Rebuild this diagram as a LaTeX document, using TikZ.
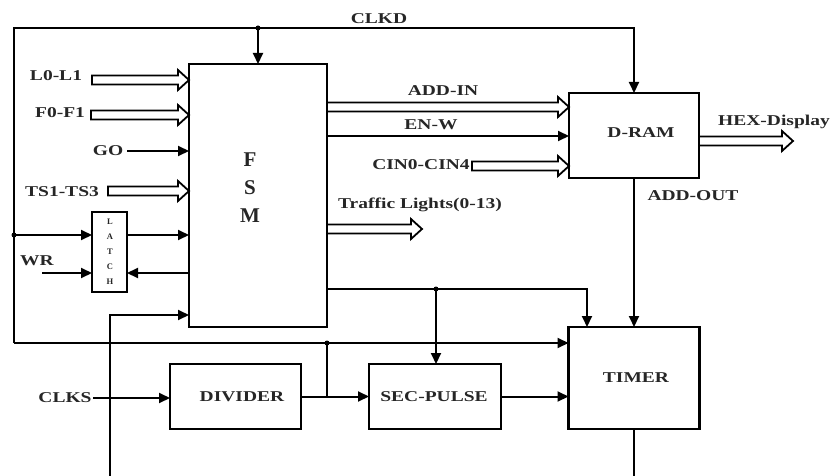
\documentclass[tikz,border=0pt]{standalone}
\usepackage{fontspec}
\newfontfamily\lblfam{Liberation Serif}[FakeStretch=1.3]
\newfontfamily\fsmfam{Liberation Serif}
\usetikzlibrary{arrows.meta,calc}
\tikzset{
  box/.style={draw, line width=2.8pt, inner sep=0pt, outer sep=0pt, rectangle},
  wire/.style={line width=2pt},
  arr/.style={wire, -{Triangle[length=11pt,width=10pt]}},
  lbl/.style={inner sep=0pt, text=black!85, font=\lblfam\bfseries\fontsize{15}{18}\selectfont},
  jdot/.style={circle, fill, inner sep=0pt, minimum size=5pt},
  hollowline/.style={line width=1.8pt, line join=miter}
}
\newcommand{\hollowarrow}[2]{%
  \draw[hollowline] let \p1=#1, \p2=#2 in
    ({\x1},{\y1+4.5pt}) -- ({\x2-11pt},{\y1+4.5pt}) -- ({\x2-11pt},{\y1+10pt}) --
    ({\x2},{\y1}) -- ({\x2-11pt},{\y1-10pt}) -- ({\x2-11pt},{\y1-4.5pt}) --
    ({\x1},{\y1-4.5pt}) -- cycle;}
\begin{document}
\begin{tikzpicture}[x=1pt,y=-1pt]
\useasboundingbox (0,0) rectangle (832,476);

% boxes
\node[box, minimum width=138pt, minimum height=263pt] (fsm) at (258,195.5) {};
\node[box, minimum width=35pt, minimum height=80pt] (latch) at (109.5,252) {};
\node[box, minimum width=130pt, minimum height=85pt] (dram) at (634,135.5) {};
\node[box, minimum width=131pt, minimum height=102pt] (timer) at (634,378) {};
\node[box, minimum width=131pt, minimum height=65pt] (divider) at (235.5,396.5) {};
\node[box, minimum width=132pt, minimum height=65pt] (secpulse) at (435,396.5) {};

% box texts
\node[inner sep=0pt, align=center, text=black!85, font=\fsmfam\bfseries\fontsize{21}{28}\selectfont] (fsmtxt) at (250,188) {F\\S\\M};
\node[inner sep=0pt, align=center, text=black!85, font=\fsmfam\bfseries\fontsize{8.5}{15}\selectfont] (latchtxt) at (110,252) {L\\A\\T\\C\\H};
\node[lbl] (dramtxt) at (641,133) {D-RAM};
\node[lbl] (timertxt) at (636,378) {TIMER};
\node[lbl] (dividertxt) at (242,397) {DIVIDER};
\node[lbl] (secpulsetxt) at (434,397) {SEC-PULSE};

% labels
\node[lbl] (clkd) at (379,19) {CLKD};
\node[lbl] (l0) at (56,76) {L0-L1};
\node[lbl] (f0) at (60,113) {F0-F1};
\node[lbl] (go) at (108,151) {GO};
\node[lbl] (ts) at (62,192) {TS1-TS3};
\node[lbl] (wr) at (37,261) {WR};
\node[lbl] (clks) at (65,398) {CLKS};
\node[lbl] (addin) at (443,91) {ADD-IN};
\node[lbl] (enw) at (431,125) {EN-W};
\node[lbl] (cin) at (421,165) {CIN0-CIN4};
\node[lbl] (traffic) at (420,205) {Traffic Lights(0-13)};
\node[lbl] (hex) at (774,122) {HEX-Display};
\node[lbl] (addout) at (693,196) {ADD-OUT};

% coordinates
\coordinate (ckL) at (14,343);
\coordinate (ckT) at (14,28);
\coordinate (ckF) at (258,28);
\coordinate (latchin) at (14,235);
\coordinate (wrs) at (42,273);
\coordinate (fbB) at (110,476);
\coordinate (fbT) at (110,315);
\coordinate (dj) at (327,396.5);
\coordinate (fo) at (327,289);
\coordinate (fj) at (436,289);
\coordinate (fo2) at (587,289);
\coordinate (tb) at (634,476);
\coordinate (l0s) at (92,80);
\coordinate (f0s) at (91,115);
\coordinate (tss) at (108,191);
\coordinate (adds) at (327,107);
\coordinate (enws) at (327,136);
\coordinate (cins) at (472,166);
\coordinate (trs) at (327,229);
\coordinate (tre) at (422,229);
\coordinate (hexs) at (699,141);
\coordinate (hexe) at (793,141);
\coordinate (clkin) at (93,398);

% clock bus
\draw[arr] (ckL) -- (ckT) -- (dram.north |- ckT) -- (dram.north);
\draw[arr] (ckF) -- (fsm.north);
\draw[arr] (ckL) -- (timer.west |- ckL);
\node[jdot] at (ckF) {};
\node[jdot] at (latchin) {};
\node[jdot] at (dj |- ckL) {};

% latch
\draw[arr] (latchin) -- (latch.west |- latchin);
\draw[arr] (latch.east |- latchin) -- (fsm.west |- latchin);
\draw[arr] (wrs) -- (latch.west |- wrs);
\draw[arr] (fsm.west |- wrs) -- (latch.east |- wrs);

% feedback from below
\draw[arr] (fbB) -- (fbT) -- (fsm.west |- fbT);

% GO
\draw[arr] ([xshift=4pt]go.east) -- (fsm.west |- go.east);

% hollow bus arrows
\hollowarrow{(l0s)}{(fsm.west)}
\hollowarrow{(f0s)}{(fsm.west)}
\hollowarrow{(tss)}{(fsm.west)}
\hollowarrow{(adds)}{(dram.west)}
\hollowarrow{(cins)}{(dram.west)}
\hollowarrow{(trs)}{(tre)}
\hollowarrow{(hexs)}{(hexe)}

% EN-W
\draw[arr] (enws) -- (dram.west |- enws);

% ADD-OUT
\draw[arr] (dram.south) -- (timer.north);

% FSM output to timer and sec-pulse
\draw[arr] (fo) -- (fo2) -- (fo2 |- timer.north);
\draw[arr] (fj) -- (fj |- secpulse.north);
\node[jdot] at (fj) {};

% divider / sec-pulse / timer
\draw[arr] (clkin) -- (divider.west |- clkin);
\draw[arr] (divider.east) -- (secpulse.west);
\draw[wire] (dj) -- (dj |- ckL);
\draw[arr] (secpulse.east) -- (timer.west |- secpulse.east);
\draw[wire] (timer.south) -- (tb);
\end{tikzpicture}
\end{document}
